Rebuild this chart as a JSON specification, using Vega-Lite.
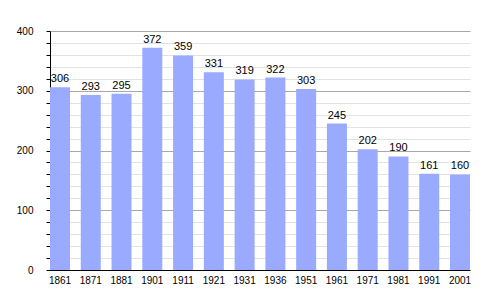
{
  "$schema": "https://vega.github.io/schema/vega-lite/v6.json",
  "autosize": "none",
  "padding": {"left": 50, "top": 31, "right": 30, "bottom": 30},
  "width": 420,
  "height": 239,
  "background": "white",
  "config": {"view": {"stroke": null}, "font": "Liberation Sans"},
  "data": {"values": [
    {"year": "1861", "pop": 306},
    {"year": "1871", "pop": 293},
    {"year": "1881", "pop": 295},
    {"year": "1901", "pop": 372},
    {"year": "1911", "pop": 359},
    {"year": "1921", "pop": 331},
    {"year": "1931", "pop": 319},
    {"year": "1936", "pop": 322},
    {"year": "1951", "pop": 303},
    {"year": "1961", "pop": 245},
    {"year": "1971", "pop": 202},
    {"year": "1981", "pop": 190},
    {"year": "1991", "pop": 161},
    {"year": "2001", "pop": 160}
  ]},
  "encoding": {
    "x": {"field": "year", "type": "nominal", "sort": null,
      "scale": {"paddingInner": 0.35, "paddingOuter": 0},
      "axis": {"title": null, "labelAngle": 0, "ticks": false, "labelPadding": 5,
        "domainColor": "black", "labelFontSize": 10, "labelColor": "black", "grid": false}},
    "y": {"field": "pop", "type": "quantitative",
      "scale": {"domain": [0, 400], "nice": false},
      "axis": {"title": null, "values": [0,20,40,60,80,100,120,140,160,180,200,220,240,260,280,300,320,340,360,380,400],
        "labelExpr": "datum.value % 100 === 0 ? datum.label : ''",
        "grid": true,
        "gridColor": {"condition": {"test": "datum.value % 100 === 0", "value": "#a8a8a8"}, "value": "#e2e2e2"},
        "tickSize": 4, "tickColor": "black", "domainColor": "black",
        "labelPadding": 13, "labelFontSize": 10, "labelColor": "black"}}
  },
  "layer": [
    {"mark": {"type": "bar", "color": "#99aaff"}},
    {"mark": {"type": "text", "baseline": "bottom", "dy": -3, "fontSize": 11, "color": "black"},
     "encoding": {"text": {"field": "pop", "type": "quantitative"}}}
  ]
}
